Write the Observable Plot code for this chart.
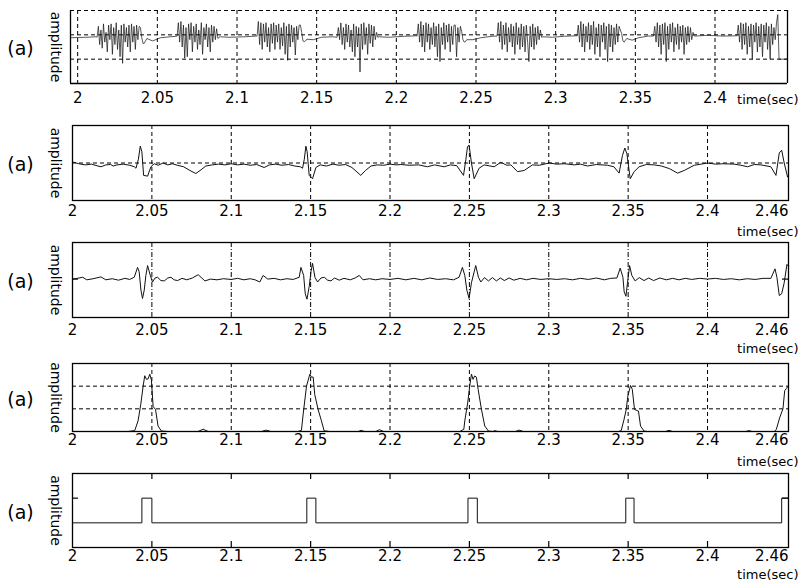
<!DOCTYPE html>
<html><head><meta charset="utf-8">
<script src="https://cdn.jsdelivr.net/npm/d3@7"></script>
<script src="https://cdn.jsdelivr.net/npm/@observablehq/plot@0.6"></script>
<style>
html,body{margin:0;padding:0;background:#fff;}
#chart{position:relative;width:802px;height:584px;overflow:hidden;background:#fff;}
#chart svg{position:absolute;left:0;}
</style></head><body><div id="chart"></div>
<script>
// ---------- tick labels ----------
const xTicks = [2, 2.05, 2.1, 2.15, 2.2, 2.25, 2.3, 2.35, 2.4];
const xTickLabels = ["2", "2.05", "2.1", "2.15", "2.2", "2.25", "2.3", "2.35", "2.4"];
const xEndLabel = "2.46";
const timeLabel = "time(sec)";
const panelLabel = "(a)";
const yLabel = "amplitude";

// ---------- panel 1: raw signal (spike bursts) ----------
const p1BurstStart = [2.0122, 2.0624, 2.1126, 2.1628, 2.2130, 2.2632, 2.3134, 2.3614, 2.4138];
const p1BurstStep = 0.0008;
const p1Burst1 = [-0.1,0.35,-0.4,0.2,-0.55,0.45,-0.3,0.1,-0.7,0.4,-0.2,0.45,-0.8,0.3,-0.4,0.5,-0.6,0.2,-0.9,0.4,-1.17,0.45,-0.3,0.3,-0.5,0.4,-0.7,0.45,-0.3,0.35,-0.6,0.4,-0.2,0.35,0.3,-0.1,-0.35,-0.35,-0.25,-0.15];
const p1Burst2 = [-0.05,0.5,-0.3,0.55,-0.5,0.4,-0.96,0.3,-0.9,0.45,-0.2,0.5,-0.7,0.35,-0.3,0.45,-0.6,0.2,-0.4,0.5,-0.8,0.3,-0.2,0.45,-0.5,0.3,-0.7,0.4,-0.3,0.35,-0.2,0.25,-0.15,-0.1,-0.08];
const p1Burst3 = [-0.05,0.55,-0.4,0.5,-0.6,0.45,-0.3,0.5,-0.5,0.3,-0.7,0.45,-0.35,0.5,-0.6,0.4,-0.3,0.45,-0.6,0.3,-0.45,0.5,-0.8,0.35,-1.05,0.45,-0.5,0.4,-0.3,0.3,-0.83,0.35,-0.2,0.4,0.4,0.1,-0.25,-0.28,-0.25,-0.18];
const p1Burst4 = [-0.1,0.3,-0.2,0.49,-0.4,0.3,-0.6,0.45,-0.3,0.4,-0.5,0.2,-0.7,0.45,-0.9,0.35,-0.5,0.3,-1.53,0.45,-0.6,0.5,-0.4,0.3,-0.8,0.45,-0.35,0.4,-0.5,0.35,-0.2,0.1,-0.1,-0.08];
const p1Burst5 = [-0.05,0.45,-0.3,0.55,-0.5,0.4,-0.7,0.5,-0.3,0.45,-0.6,0.3,-0.4,0.5,-0.5,0.35,-0.9,0.45,-1.1,0.3,-0.4,0.5,-0.6,0.4,-0.3,0.45,-0.7,0.35,-0.4,0.4,0.4,-0.9,0.3,-0.3,0.35,0.14,-0.2,-0.3,-0.28,-0.2];
const p1Burst6 = [-0.05,0.5,-0.3,0.55,-0.6,0.4,-0.4,0.5,-0.7,0.3,-0.3,0.45,-0.5,0.35,-0.8,0.5,-0.4,0.3,-0.6,0.45,-0.5,0.35,-0.7,0.4,-0.3,-1.1,0.35,-0.5,0.45,-0.6,0.3,-0.4,0.35,-0.2,0.2,-0.1,-0.08];
const p1Burst7 = [-0.05,0.4,-0.3,0.55,-0.5,0.45,-0.7,0.35,-0.3,0.5,-0.6,0.4,-0.4,0.55,-0.8,0.3,-0.5,0.45,-0.9,0.4,-0.3,0.5,-0.6,0.35,-1.1,0.45,-0.5,0.4,-0.7,0.3,-0.4,0.45,-0.3,0.35,0.2,0.05,-0.25,-0.3,-0.22,-0.15];
const p1Burst8 = [-0.05,0.35,-0.3,0.5,-0.5,0.4,-0.8,0.45,-0.4,0.5,-1.1,0.35,-0.6,0.45,-0.3,0.5,-0.7,0.3,-0.4,0.45,-0.6,0.35,-0.3,0.4,-0.8,0.3,-0.4,0.35,-0.3,0.3,-0.2,0.1,-0.05,-0.05];
const p1Burst9 = [-0.05,0.4,-0.3,0.5,-0.6,0.45,-0.4,0.5,-0.8,0.35,-0.5,0.45,-1.0,0.4,-0.3,0.5,-0.7,0.35,-0.5,0.45,-0.9,0.4,-0.3,0.5,-0.6,0.35,-1.0,0.45,-0.4,0.3,-0.2,0.5,0.83,-1.0];
const p1BaseT = [1.9955,2.005,2.0118,2.047,2.052,2.058,2.062,2.095,2.105,2.112,2.148,2.153,2.16,2.195,2.205,2.2125,2.248,2.253,2.26,2.298,2.305,2.313,2.348,2.352,2.358,2.395,2.405,2.4135,2.4452];
const p1BaseV = [-0.12,-0.1,-0.08,-0.25,-0.12,-0.08,-0.06,-0.1,-0.08,-0.05,-0.2,-0.1,-0.08,-0.1,-0.06,-0.04,-0.2,-0.12,-0.06,-0.1,-0.06,-0.04,-0.22,-0.12,-0.05,-0.02,-0.05,-0.04,-1.0];

// ---------- panel 2: filtered signal ----------
const p2 = [[2.0,0.03],[2.004,-0.02],[2.008,-0.05],[2.012,-0.03],[2.016,-0.08],[2.018,-0.1],[2.021,-0.05],[2.024,-0.04],[2.0256,-0.08],[2.028,-0.05],[2.032,-0.03],[2.036,-0.06],[2.039,-0.1],[2.040,-0.14],[2.0415,0.1],[2.0427,0.45],[2.0437,0.3],[2.0448,-0.33],[2.0473,-0.35],[2.0494,-0.1],[2.0515,-0.02],[2.054,-0.06],[2.057,0.0],[2.060,-0.05],[2.063,-0.02],[2.066,-0.06],[2.070,-0.1],[2.074,-0.2],[2.0777,-0.28],[2.081,-0.18],[2.084,-0.08],[2.088,-0.05],[2.092,-0.03],[2.096,-0.05],[2.100,-0.02],[2.104,-0.05],[2.108,-0.03],[2.112,-0.06],[2.116,-0.04],[2.1207,-0.12],[2.124,-0.05],[2.128,-0.03],[2.132,-0.06],[2.136,-0.04],[2.140,-0.08],[2.1435,-0.1],[2.1449,-0.14],[2.1460,0.1],[2.1470,0.45],[2.1478,0.3],[2.1491,-0.33],[2.1512,-0.42],[2.1533,-0.12],[2.156,-0.05],[2.160,-0.08],[2.164,-0.03],[2.168,-0.06],[2.172,-0.04],[2.176,-0.12],[2.1816,-0.33],[2.1845,-0.2],[2.188,-0.08],[2.192,-0.05],[2.196,-0.06],[2.200,-0.03],[2.204,-0.05],[2.2068,-0.04],[2.212,-0.06],[2.218,-0.05],[2.2236,-0.1],[2.228,-0.05],[2.2341,-0.1],[2.238,-0.05],[2.242,-0.07],[2.2463,-0.33],[2.2478,0.1],[2.2488,0.43],[2.2498,0.48],[2.2513,0.0],[2.253,-0.42],[2.2561,-0.14],[2.2593,-0.05],[2.2656,-0.1],[2.2698,0.02],[2.2735,-0.06],[2.2761,-0.05],[2.2803,-0.23],[2.2845,-0.2],[2.2897,-0.05],[2.294,-0.06],[2.3002,0.0],[2.305,-0.03],[2.310,-0.02],[2.316,-0.05],[2.320,-0.03],[2.3244,-0.08],[2.330,-0.04],[2.3370,-0.06],[2.341,-0.1],[2.3443,-0.27],[2.3464,0.2],[2.3479,0.4],[2.3492,0.25],[2.3513,-0.42],[2.3538,-0.23],[2.3569,-0.1],[2.3615,-0.04],[2.3664,-0.05],[2.371,-0.08],[2.376,-0.15],[2.3811,-0.27],[2.3853,-0.2],[2.3916,-0.06],[2.396,-0.03],[2.400,0.0],[2.405,-0.03],[2.410,-0.02],[2.4168,-0.03],[2.421,-0.06],[2.4252,-0.1],[2.4295,-0.04],[2.4336,-0.05],[2.4399,-0.1],[2.4431,-0.33],[2.4452,0.27],[2.4467,0.34],[2.4483,0.0],[2.4504,-0.37]];

// ---------- panel 3: derivative ----------
const p3 = [[2.0,0.0],[2.003,0.02],[2.0064,0.05],[2.009,-0.02],[2.013,0.01],[2.0179,0.06],[2.021,-0.02],[2.025,0.01],[2.029,-0.03],[2.033,0.02],[2.036,-0.01],[2.0389,0.05],[2.041,0.32],[2.042,0.2],[2.0431,-0.3],[2.0441,-0.53],[2.0452,-0.3],[2.0462,0.1],[2.0473,0.37],[2.049,0.1],[2.0504,-0.08],[2.052,0.03],[2.0536,0.05],[2.0557,-0.04],[2.0578,-0.05],[2.060,0.03],[2.062,0.05],[2.064,-0.02],[2.0662,-0.04],[2.069,0.02],[2.072,-0.02],[2.0755,0.03],[2.0792,0.12],[2.0834,-0.05],[2.087,0.0],[2.091,-0.02],[2.095,0.01],[2.10,-0.01],[2.104,0.02],[2.108,-0.02],[2.112,0.01],[2.115,-0.02],[2.118,-0.08],[2.1201,0.1],[2.123,0.0],[2.127,0.02],[2.131,-0.02],[2.135,0.01],[2.139,-0.01],[2.1428,0.05],[2.1439,0.32],[2.1456,0.1],[2.1466,-0.4],[2.1477,-0.55],[2.1491,-0.2],[2.1502,0.2],[2.1512,0.43],[2.1527,0.05],[2.1544,-0.08],[2.1565,0.03],[2.1586,0.05],[2.1607,-0.03],[2.1628,-0.05],[2.165,0.03],[2.168,-0.03],[2.171,0.02],[2.175,-0.02],[2.178,0.03],[2.1806,0.1],[2.183,-0.02],[2.187,0.01],[2.191,-0.02],[2.195,0.01],[2.20,-0.01],[2.205,0.02],[2.21,-0.02],[2.215,0.02],[2.22,-0.02],[2.225,0.03],[2.23,-0.01],[2.235,0.01],[2.24,-0.02],[2.2435,0.05],[2.2456,0.32],[2.2471,0.1],[2.2484,-0.3],[2.2498,-0.53],[2.2513,-0.1],[2.253,0.2],[2.254,0.37],[2.2557,0.05],[2.2572,-0.08],[2.2595,0.04],[2.262,-0.05],[2.2645,0.04],[2.267,-0.05],[2.2695,0.03],[2.272,-0.04],[2.275,0.03],[2.278,-0.03],[2.282,0.02],[2.286,-0.02],[2.29,0.02],[2.295,-0.01],[2.30,0.01],[2.305,-0.01],[2.31,0.01],[2.315,-0.02],[2.32,0.02],[2.325,-0.01],[2.33,0.03],[2.335,-0.02],[2.339,0.02],[2.3429,0.03],[2.345,0.3],[2.3467,0.05],[2.3475,-0.35],[2.3486,-0.47],[2.3496,-0.1],[2.3509,0.37],[2.3523,0.1],[2.3544,-0.05],[2.357,0.04],[2.36,-0.04],[2.363,0.03],[2.366,-0.04],[2.37,0.03],[2.374,-0.02],[2.378,0.02],[2.382,-0.02],[2.386,0.02],[2.39,-0.01],[2.395,0.02],[2.40,0.0],[2.405,0.02],[2.41,-0.01],[2.415,0.01],[2.42,-0.02],[2.425,0.01],[2.43,-0.01],[2.435,0.02],[2.4399,0.02],[2.4425,0.28],[2.4437,0.05],[2.4452,-0.45],[2.4467,-0.4],[2.4483,-0.1],[2.45,0.4],[2.451,0.35]];

// ---------- panel 4: energy envelope ----------
const p4 = [[2.0,0],[2.035,0],[2.0392,0.04],[2.0413,0.47],[2.043,1.2],[2.0445,2.0],[2.0455,2.46],[2.0466,2.3],[2.0476,2.32],[2.0487,2.53],[2.0497,2.27],[2.0508,1.1],[2.0523,0.97],[2.0539,0.24],[2.056,0.02],[2.06,0],[2.079,0],[2.0823,0.1],[2.0855,0],[2.119,0],[2.1218,0.06],[2.125,0],[2.142,0],[2.1442,0.05],[2.1453,0.77],[2.1474,2.0],[2.1495,2.53],[2.1505,2.4],[2.1516,2.4],[2.1526,1.63],[2.1547,0.97],[2.1568,0.47],[2.1585,0.03],[2.162,0],[2.18,0],[2.1818,0.05],[2.184,0],[2.191,0],[2.1934,0.08],[2.196,0],[2.244,0],[2.2465,0.1],[2.2471,0.47],[2.249,1.3],[2.2502,2.0],[2.2513,2.53],[2.2523,2.3],[2.2533,2.45],[2.2544,2.4],[2.2555,1.86],[2.2576,0.97],[2.2597,0.24],[2.262,0.02],[2.265,0],[2.2656,0.04],[2.268,0],[2.279,0],[2.2813,0.06],[2.284,0],[2.344,0],[2.3456,0.04],[2.3473,0.5],[2.3488,0.97],[2.3498,1.56],[2.3515,2.03],[2.3526,1.86],[2.354,0.97],[2.3565,0.9],[2.3578,0.24],[2.36,0.02],[2.362,0],[2.3735,0],[2.3757,0.05],[2.378,0],[2.424,0],[2.4262,0.04],[2.428,0],[2.442,0],[2.4433,0.08],[2.4454,0.6],[2.4475,1.0],[2.4486,1.8],[2.4497,1.9],[2.4507,2.0],[2.451,2.0]];

// ---------- panel 5: detection pulses ----------
const p5T = [2.0, 2.0437, 2.05, 2.1476, 2.1533, 2.2491, 2.2550, 2.3485, 2.3537, 2.4467, 2.451];
const p5V = [0, 1, 0, 1, 0, 1, 0, 1, 0, 1, 1];

// ---------- build ----------
const p1Bursts = [p1Burst1,p1Burst2,p1Burst3,p1Burst4,p1Burst5,p1Burst6,p1Burst7,p1Burst8,p1Burst9];
const p1Data = p1BaseT.map((t, i) => ({t, v: p1BaseV[i]}));
p1Bursts.forEach((b, k) => b.forEach((v, i) => p1Data.push({t: p1BurstStart[k] + i * p1BurstStep, v})));
p1Data.sort((a, b) => a.t - b.t);
const toObj = arr => arr.map(([t, v]) => ({t, v}));
const p5Data = p5T.map((t, i) => ({t, v: p5V[i]}));

const W = 802;
const chart = document.getElementById("chart");

function panel(cfg) {
  const fw = W - cfg.ml - cfg.mr;
  const fh = cfg.h - cfg.mt - cfg.mb;
  const dash = cfg.dash || "4,3";
  const marks = [];
  if (cfg.gridX) marks.push(Plot.gridX(cfg.gridX, {stroke: "#000", strokeOpacity: 1, strokeWidth: 1, strokeDasharray: dash}));
  if (cfg.gridY) marks.push(Plot.gridY(cfg.gridY, {stroke: "#000", strokeOpacity: 1, strokeWidth: 1, strokeDasharray: "4,3"}));
  if (cfg.yTicks) {
    marks.push(Plot.tickY(cfg.yTicks, {y: d => d, stroke: "#000", strokeWidth: 1.2, insetRight: fw - 6}));
    marks.push(Plot.tickY(cfg.yTicks, {y: d => d, stroke: "#000", strokeWidth: 1.2, insetLeft: fw - 6}));
  }
  if (cfg.xTicksIn) {
    marks.push(Plot.tickX(cfg.xTicksIn, {x: d => d, stroke: "#000", strokeWidth: 1.2, insetBottom: fh - 6}));
    marks.push(Plot.tickX(cfg.xTicksIn, {x: d => d, stroke: "#000", strokeWidth: 1.2, insetTop: fh - 6}));
  }
  marks.push(Plot.line(cfg.data, {x: "t", y: "v", stroke: "#111", strokeWidth: cfg.sw || 1, curve: cfg.curve || "linear"}));
  if (cfg.openTop) {
    marks.push(Plot.ruleX(cfg.xd, {stroke: "#000", strokeWidth: 1.3}));
    marks.push(Plot.ruleY([cfg.yd[0]], {stroke: "#000", strokeWidth: 1.3}));
  } else {
    marks.push(Plot.frame({stroke: "#000", strokeWidth: 1.3}));
  }
  marks.push(Plot.text(cfg.ticks, {x: d => d, text: (d, i) => cfg.labels[i], frameAnchor: "bottom", lineAnchor: "top", dy: cfg.labelDy, fontSize: 15, fill: "#000"}));
  if (cfg.endLabel) marks.push(Plot.text([cfg.endLabel], {text: d => d, frameAnchor: "bottom-right", textAnchor: "end", lineAnchor: "top", dy: cfg.labelDy, fontSize: 15, fill: "#000"}));
  marks.push(Plot.text([timeLabel], {text: d => d, frameAnchor: "bottom-right", textAnchor: "end", lineAnchor: "middle", dx: cfg.timeDx, dy: cfg.timeDy, fontSize: 13, fill: "#000"}));
  marks.push(Plot.text([panelLabel], {text: d => d, frameAnchor: "left", textAnchor: "middle", lineAnchor: "middle", dx: 20 - cfg.ml, dy: 2, fontSize: 19, fill: "#000"}));
  marks.push(Plot.text([yLabel], {text: d => d, frameAnchor: "left", rotate: 90, textAnchor: "middle", lineAnchor: "middle", dx: 55 - cfg.ml, fontSize: 14, fill: "#000"}));
  const svg = Plot.plot({
    width: W, height: cfg.h,
    marginTop: cfg.mt, marginBottom: cfg.mb, marginLeft: cfg.ml, marginRight: cfg.mr,
    x: {domain: cfg.xd, axis: null},
    y: {domain: cfg.yd, axis: null},
    style: {fontFamily: "'DejaVu Sans', sans-serif", background: "transparent", overflow: "visible"},
    marks
  });
  svg.style.top = cfg.top + "px";
  chart.appendChild(svg);
}

const innerTicks = xTicks.slice(1);

panel({top: 0, h: 110, mt: 10, mb: 27, ml: 70, mr: 15, xd: [1.9955, 2.4455], yd: [-2, 1],
  data: p1Data, gridX: xTicks, gridY: [1, 0, -1], openTop: true, sw: 0.7,
  ticks: xTicks, labels: xTickLabels, labelDy: 9, timeDx: 11, timeDy: 16});

panel({top: 110, h: 125, mt: 15, mb: 35, ml: 72, mr: 14, xd: [2, 2.451], yd: [-1, 1],
  data: toObj(p2), gridX: innerTicks, gridY: [0],
  ticks: xTicks, labels: xTickLabels, endLabel: xEndLabel, labelDy: 5, timeDx: 10, timeDy: 31});

panel({top: 238, h: 118, mt: 4, mb: 39, ml: 72, mr: 14, xd: [2, 2.451], yd: [-1.05, 1],
  data: toObj(p3), gridX: innerTicks, dash: "5,2,1,2", yTicks: [0],
  ticks: xTicks, labels: xTickLabels, endLabel: xEndLabel, labelDy: 7, timeDx: 10, timeDy: 31});

panel({top: 356, h: 112, mt: 7, mb: 37, ml: 72, mr: 14, xd: [2, 2.451], yd: [0, 3],
  data: toObj(p4), gridX: innerTicks, gridY: [1, 2],
  ticks: xTicks, labels: xTickLabels, endLabel: xEndLabel, labelDy: 3, timeDx: 10, timeDy: 30});

panel({top: 468, h: 116, mt: 5, mb: 37, ml: 72, mr: 14, xd: [2, 2.451], yd: [-1, 2],
  data: p5Data, xTicksIn: innerTicks, yTicks: [1], curve: "step-after",
  ticks: xTicks, labels: xTickLabels, endLabel: xEndLabel, labelDy: 3, timeDx: 10, timeDy: 27});
</script></body></html>
